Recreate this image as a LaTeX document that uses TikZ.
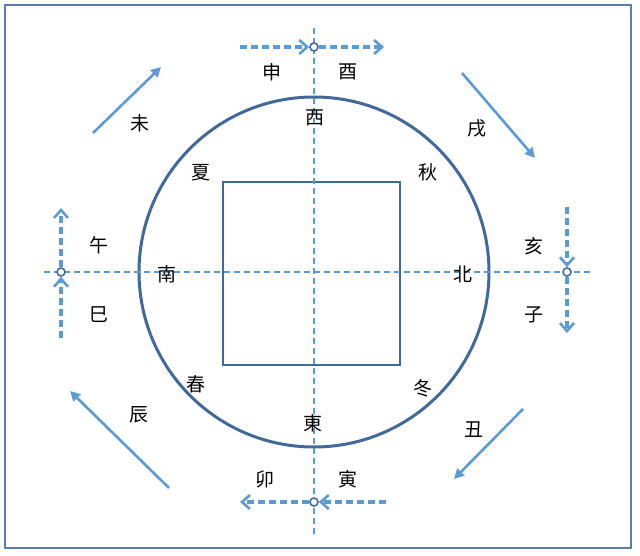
\documentclass[tikz,border=0pt]{standalone}
\usepackage{fontspec}
\newfontfamily\cjk{Noto Sans CJK SC}
\usetikzlibrary{arrows.meta}
\definecolor{frameblue}{HTML}{5B7DA6}
\definecolor{circblue}{HTML}{41699A}
\definecolor{lineblue}{HTML}{5B9BD5}
\begin{document}
\begin{tikzpicture}[x=1pt,y=-1pt,
  lbl/.style={font=\cjk\fontsize{19}{19}\selectfont, inner sep=0pt},
  axis/.style={draw=lineblue, line width=1.3pt, dash pattern=on 6pt off 4pt},
  flow/.style={draw=lineblue, line width=3.2pt, dash pattern=on 7pt off 4pt, -{Straight Barb[length=8pt,width=14pt,line width=2.6pt]}},
  turn/.style={draw=lineblue, line width=2.6pt, -{Triangle[length=10pt,width=10pt]}},
  knot/.style={circle, draw=circblue, line width=1.6pt, minimum size=8pt, inner sep=0pt, fill=white}]
\useasboundingbox (0,0) rectangle (640,556);
\draw[frameblue, line width=2pt] (5,5) rectangle (631,548);
% main circle and square
\node[circle, draw=circblue, line width=3pt, minimum size=350pt, inner sep=0pt] (circ) at (314,272) {};
\node[draw=circblue, line width=1.7pt, minimum width=177pt, minimum height=183pt, inner sep=0pt] (sq) at (311.5,273.5) {};
% axes
\coordinate (vt) at (314,28);
\coordinate (vb) at (314,537);
\coordinate (hl) at (44,272);
\coordinate (hr) at (590,272);
\draw[axis] (vt) -- (vb);
\draw[axis] (hl) -- (hr);
% knots
\node[knot] (kt) at (314,47) {};
\node[knot] (kb) at (314,502) {};
\node[knot] (kl) at (61,272) {};
\node[knot] (kr) at (567,272) {};
% dashed flow arrows
\coordinate (t1) at (240,47);
\coordinate (t2) at (384,47);
\draw[flow] (t1) -- (kt.west);
\draw[flow] (kt.east) -- (t2);
\coordinate (b1) at (386,502);
\coordinate (b2) at (240,502);
\draw[flow] (b1) -- (kb.east);
\draw[flow] (kb.west) -- (b2);
\coordinate (l1) at (61,338);
\coordinate (l2) at (61,208);
\draw[flow] (l1) -- (kl.south);
\draw[flow] (kl.north) -- (l2);
\coordinate (r1) at (567,207);
\coordinate (r2) at (567,333);
\draw[flow] (r1) -- (kr.north);
\draw[flow] (kr.south) -- (r2);
% diagonal arrows
\coordinate (a1) at (93,133); \coordinate (a2) at (161,67);
\coordinate (c1) at (462,73); \coordinate (c2) at (535,158);
\coordinate (d1) at (523,409); \coordinate (d2) at (454,479);
\coordinate (e1) at (169,488); \coordinate (e2) at (70,391);
\draw[turn] (a1) -- (a2);
\draw[turn] (c1) -- (c2);
\draw[turn] (d1) -- (d2);
\draw[turn] (e1) -- (e2);
% labels
\node[lbl] (shen) at (272,72) {申};
\node[lbl] (you) at (348,72) {酉};
\node[lbl] (xi) at (315,118) {西};
\node[lbl] (wei) at (140,123) {未};
\node[lbl] (xu) at (477,128) {戌};
\node[lbl] (xia) at (201,173) {夏};
\node[lbl] (qiu) at (428,172) {秋};
\node[lbl] (wu) at (99,245) {午};
\node[lbl] (hai) at (534,246) {亥};
\node[lbl] (nan) at (167,274) {南};
\node[lbl] (bei) at (463,274) {北};
\node[lbl] (si) at (99,315) {巳};
\node[lbl] (zi) at (534,315) {子};
\node[lbl] (chun) at (196,384) {春};
\node[lbl] (dong) at (423,388) {冬};
\node[lbl] (chen) at (139,415) {辰};
\node[lbl] (chou) at (474,430) {丑};
\node[lbl] (east) at (313,423) {東};
\node[lbl] (mao) at (265,479) {卯};
\node[lbl] (yin) at (348,479) {寅};
\end{tikzpicture}
\end{document}
